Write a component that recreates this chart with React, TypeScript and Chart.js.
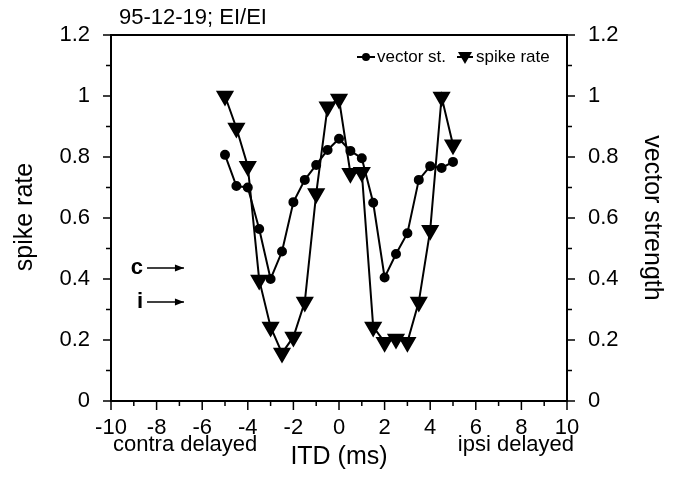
import { useRef, useEffect } from 'react';
import { Chart, registerables, type ChartConfiguration } from 'chart.js';

Chart.register(...registerables);

const itd = [-5, -4.5, -4, -3.5, -3, -2.5, -2, -1.5, -1, -0.5, 0, 0.5, 1, 1.5, 2, 2.5, 3, 3.5, 4, 4.5, 5];
const spikeRate = [1.0, 0.895, 0.77, 0.397, 0.243, 0.157, 0.21, 0.325, 0.68, 0.965, 0.99, 0.747, 0.75, 0.243, 0.193, 0.203, 0.193, 0.325, 0.56, 0.997, 0.84];
const vectorStrength = [0.807, 0.705, 0.70, 0.564, 0.40, 0.49, 0.652, 0.725, 0.774, 0.823, 0.86, 0.82, 0.796, 0.65, 0.405, 0.482, 0.55, 0.725, 0.77, 0.764, 0.784];

const xMajorTicks = [-10, -8, -6, -4, -2, 0, 2, 4, 6, 8, 10];
const yMajorTicks = [0, 0.2, 0.4, 0.6, 0.8, 1, 1.2];

// annotation arrows: label, y value, x start/end (data units)
const markers = [
    { label: 'c', y: 0.436, x0: -8.42, x1: -6.8 },
    { label: 'i', y: 0.325, x0: -8.42, x1: -6.8 },
];

const FONT = '"Liberation Sans", Arial, sans-serif';

const overlay = {
    id: 'overlay',
    afterDraw(chart: any) {
        const { ctx, chartArea: a, scales } = chart;
        const x = scales.x;
        const y = scales.y;
        ctx.save();
        ctx.strokeStyle = '#000';
        ctx.fillStyle = '#000';

        // frame
        ctx.lineWidth = 2;
        ctx.strokeRect(a.left, a.top, a.right - a.left, a.bottom - a.top);

        // ticks
        ctx.lineWidth = 1.5;
        ctx.beginPath();
        for (let v = -10; v <= 10; v++) {
            const px = x.getPixelForValue(v);
            const len = v % 2 === 0 ? 9 : 5;
            ctx.moveTo(px, a.bottom);
            ctx.lineTo(px, a.bottom + len);
        }
        for (let i = 0; i <= 12; i++) {
            const py = y.getPixelForValue(i / 10);
            const len = i % 2 === 0 ? 8 : 5;
            ctx.moveTo(a.left, py);
            ctx.lineTo(a.left - len, py);
            ctx.moveTo(a.right, py);
            ctx.lineTo(a.right + len, py);
        }
        ctx.stroke();

        // title
        ctx.font = `22px ${FONT}`;
        ctx.textAlign = 'left';
        ctx.textBaseline = 'middle';
        ctx.fillText('95-12-19; EI/EI', 119, 18);

        // under-axis notes
        ctx.fillText('contra delayed', 113, 445);
        ctx.textAlign = 'right';
        ctx.fillText('ipsi delayed', 574, 445);

        // axis titles
        ctx.font = `25px ${FONT}`;
        ctx.textAlign = 'center';
        ctx.fillText('ITD (ms)', (a.left + a.right) / 2, 457);
        ctx.save();
        ctx.translate(25, 217);
        ctx.rotate(-Math.PI / 2);
        ctx.fillText('spike rate', 0, 0);
        ctx.restore();
        ctx.save();
        ctx.translate(652, 218);
        ctx.rotate(Math.PI / 2);
        ctx.fillText('vector strength', 0, 0);
        ctx.restore();

        // c / i arrows
        ctx.font = `bold 22px ${FONT}`;
        ctx.lineWidth = 1.5;
        markers.forEach(m => {
            const py = y.getPixelForValue(m.y);
            const p0 = x.getPixelForValue(m.x0);
            const p1 = x.getPixelForValue(m.x1);
            ctx.textAlign = 'right';
            ctx.fillText(m.label, p0 - 4, py);
            ctx.beginPath();
            ctx.moveTo(p0, py);
            ctx.lineTo(p1, py);
            ctx.stroke();
            ctx.beginPath();
            ctx.moveTo(p1, py);
            ctx.lineTo(p1 - 9, py - 3.5);
            ctx.lineTo(p1 - 9, py + 3.5);
            ctx.closePath();
            ctx.fill();
        });

        // legend
        const ly = a.top + 22;
        ctx.lineWidth = 2;
        ctx.beginPath();
        ctx.moveTo(357, ly);
        ctx.lineTo(375, ly);
        ctx.stroke();
        ctx.beginPath();
        ctx.arc(366, ly, 4, 0, Math.PI * 2);
        ctx.fill();
        ctx.beginPath();
        ctx.moveTo(457, ly);
        ctx.lineTo(473, ly);
        ctx.stroke();
        ctx.beginPath();
        ctx.moveTo(458, ly - 5);
        ctx.lineTo(472, ly - 5);
        ctx.lineTo(465, ly + 7);
        ctx.closePath();
        ctx.fill();
        ctx.font = `17px ${FONT}`;
        ctx.textAlign = 'left';
        ctx.fillText('vector st.', 377, ly);
        ctx.fillText('spike rate', 476, ly);

        ctx.restore();
    },
};

export default function App() {
    const chartRef = useRef<HTMLCanvasElement>(null);

    useEffect(() => {
        if (!chartRef.current) return;
        const tickFont = { family: FONT, size: 22 };
        const config = {
            type: 'line',
            data: {
                datasets: [
                    {
                        label: 'vector st.',
                        data: itd.map((v, i) => ({ x: v, y: vectorStrength[i] })),
                        yAxisID: 'y2',
                        borderColor: '#000',
                        backgroundColor: '#000',
                        borderWidth: 2,
                        pointRadius: 4,
                        pointStyle: 'circle',
                    },
                    {
                        label: 'spike rate',
                        data: itd.map((v, i) => ({ x: v, y: spikeRate[i] })),
                        yAxisID: 'y',
                        borderColor: '#000',
                        backgroundColor: '#000',
                        borderWidth: 2,
                        pointRadius: 8.5,
                        pointStyle: 'triangle',
                        rotation: 180,
                    },
                ],
            },
            options: {
                responsive: false,
                animation: false,
                layout: { padding: { top: 35, left: 0, right: 0, bottom: 0 } },
                plugins: {
                    legend: { display: false },
                    tooltip: { enabled: false },
                },
                scales: {
                    x: {
                        type: 'linear',
                        min: -10,
                        max: 10,
                        afterBuildTicks: (s: any) => { s.ticks = xMajorTicks.map(v => ({ value: v })); },
                        afterFit: (s: any) => { s.height = 77; },
                        grid: { display: false },
                        border: { display: false },
                        ticks: { font: tickFont, color: '#000', padding: 6, maxRotation: 0, autoSkip: false },
                    },
                    y: {
                        position: 'left',
                        min: 0,
                        max: 1.2,
                        afterBuildTicks: (s: any) => { s.ticks = yMajorTicks.map(v => ({ value: v })); },
                        afterFit: (s: any) => { s.width = 111; },
                        grid: { display: false },
                        border: { display: false },
                        ticks: { font: tickFont, color: '#000', padding: 13, callback: (v: number) => String(v) },
                    },
                    y2: {
                        position: 'right',
                        min: 0,
                        max: 1.2,
                        afterBuildTicks: (s: any) => { s.ticks = yMajorTicks.map(v => ({ value: v })); },
                        afterFit: (s: any) => { s.width = 110; },
                        grid: { display: false },
                        border: { display: false },
                        ticks: { font: tickFont, color: '#000', padding: 13, callback: (v: number) => String(v) },
                    },
                },
            },
            plugins: [overlay],
        };
        const chart = new Chart(chartRef.current, config as unknown as ChartConfiguration);
        return () => {
            chart.destroy();
        };
    }, []);

    return (
        <div style={{ position: 'fixed', left: 0, top: 0, width: 677, height: 478, background: '#fff' }}>
            <canvas ref={chartRef} width={677} height={478}></canvas>
        </div>
    );
}
